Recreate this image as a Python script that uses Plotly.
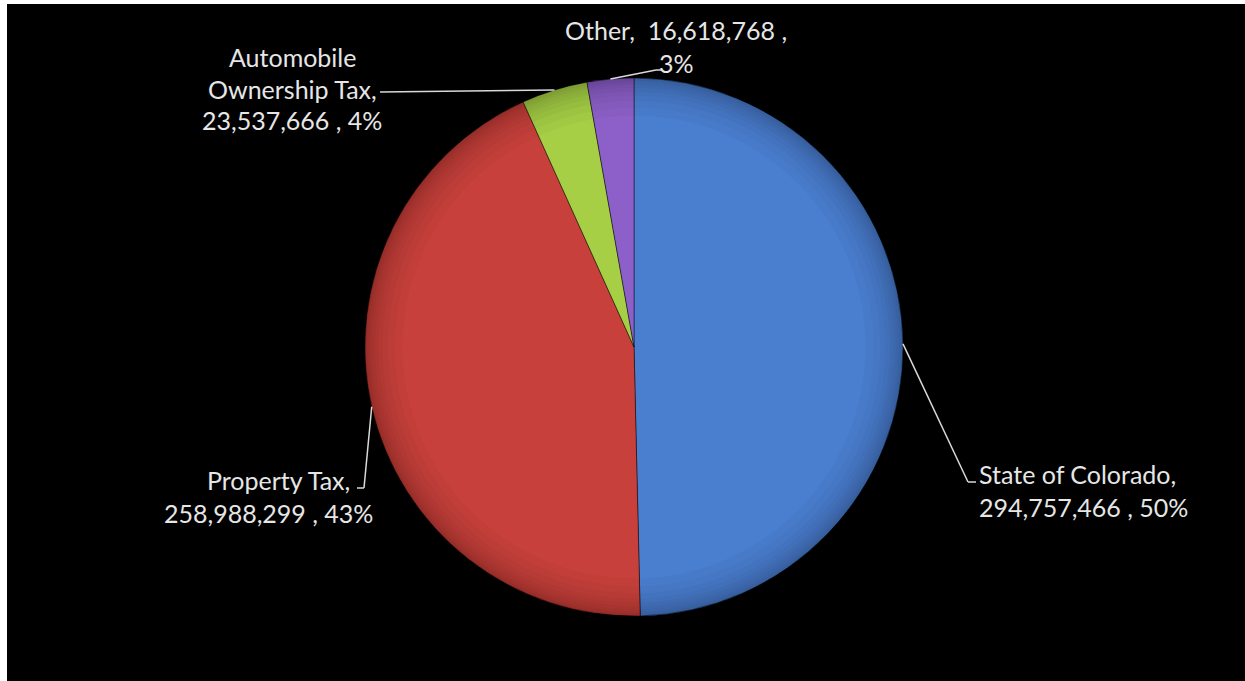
import math
import plotly.graph_objects as go

# ---- data ----
categories = ["State of Colorado", "Property Tax", "Automobile Ownership Tax", "Other"]
values = [294757466, 258988299, 23537666, 16618768]
pct_labels = ["50%", "43%", "4%", "3%"]
colors = ["#4A7FD0", "#C8403B", "#A6CF45", "#8C60C8"]

W, H = 1245, 681
CX, CY, R = 634, 347, 269  # pie centre / radius in pixels (layout)


def px(x):
    return x / W


def py(y):
    return 1 - y / H


DOMAIN = dict(x=[px(CX - R), px(CX + R)], y=[py(CY + R), py(CY - R)])

fig = go.Figure(go.Pie(
    labels=categories,
    values=values,
    sort=False,
    direction="clockwise",
    rotation=0,
    textinfo="none",
    hoverinfo="label+value+percent",
    marker=dict(colors=colors, line=dict(color="rgba(0,0,0,0.45)", width=1)),
    domain=DOMAIN,
    showlegend=False,
))

# soft darker rim to mimic the bevelled 3-D look (stacked translucent rings)
rim_holes = [0.86, 0.89, 0.915, 0.935, 0.95, 0.963, 0.974, 0.983, 0.99]
for hole in rim_holes:
    fig.add_trace(go.Pie(
        values=[1], hole=hole, sort=False, textinfo="none", hoverinfo="skip",
        marker=dict(colors=["rgba(0,0,0,0.028)"], line=dict(width=0)),
        domain=DOMAIN, showlegend=False,
    ))

# slice mid-angles (computed from data) -> leader start points on the pie edge
total = sum(values)
cum = 0
edge = []
for v in values:
    mid = (cum + v / 2) / total * 2 * math.pi
    edge.append((CX + R * math.sin(mid), CY - R * math.cos(mid)))
    cum += v

FONT = dict(family="Lato, Open Sans, sans-serif", size=25, color="#E6E6E6")
LINE = dict(color="#D9D9D9", width=1.5)

# leader paths (label-side elbows)
paths = [
    [edge[0], (968, 482), (976, 482)],
    [edge[1], (364, 488), (357, 488)],
    [edge[2], (380, 92)],
    [edge[3], (656, 70), (662, 70)],
]
shapes = []
for p in paths:
    for (x0, y0), (x1, y1) in zip(p[:-1], p[1:]):
        shapes.append(dict(type="line", xref="paper", yref="paper",
                           x0=px(x0), y0=py(y0), x1=px(x1), y1=py(y1), line=LINE))

# white strips at top / left edges of the picture
shapes.append(dict(type="rect", xref="paper", yref="paper", x0=0, x1=1,
                   y0=py(4), y1=1, fillcolor="white", line=dict(width=0), layer="above"))
shapes.append(dict(type="rect", xref="paper", yref="paper", x0=0, x1=px(7),
                   y0=0, y1=1, fillcolor="white", line=dict(width=0), layer="above"))


def fmt(v):
    return f"{v:,}"


label_lines = [
    # (text, x, y, xanchor)
    (f"{categories[0]},", 977, 474, "left"),
    (f"{fmt(values[0])} , {pct_labels[0]}", 977, 507, "left"),
    (f"{categories[1]},", 278, 480, "center"),
    (f"{fmt(values[1])} , {pct_labels[1]}", 268, 513, "center"),
    ("Automobile", 292, 57, "center"),
    ("Ownership Tax,", 292, 89, "center"),
    (f"{fmt(values[2])} , {pct_labels[2]}", 292, 120, "center"),
    (f"{categories[3]},  {fmt(values[3])} ,", 676, 30, "center"),
    (pct_labels[3], 676, 63, "center"),
]
annotations = [
    dict(text=t, x=px(x), y=py(y), xref="paper", yref="paper",
         xanchor=xa, yanchor="middle", showarrow=False, font=FONT)
    for t, x, y, xa in label_lines
]

fig.update_layout(
    width=W, height=H,
    margin=dict(l=0, r=0, t=0, b=0),
    paper_bgcolor="black",
    plot_bgcolor="black",
    shapes=shapes,
    annotations=annotations,
)

fig.write_html(
    "out.html",
    config={"displayModeBar": False},
    post_script="document.body.style.margin='0';document.body.style.overflow='hidden';",
)
